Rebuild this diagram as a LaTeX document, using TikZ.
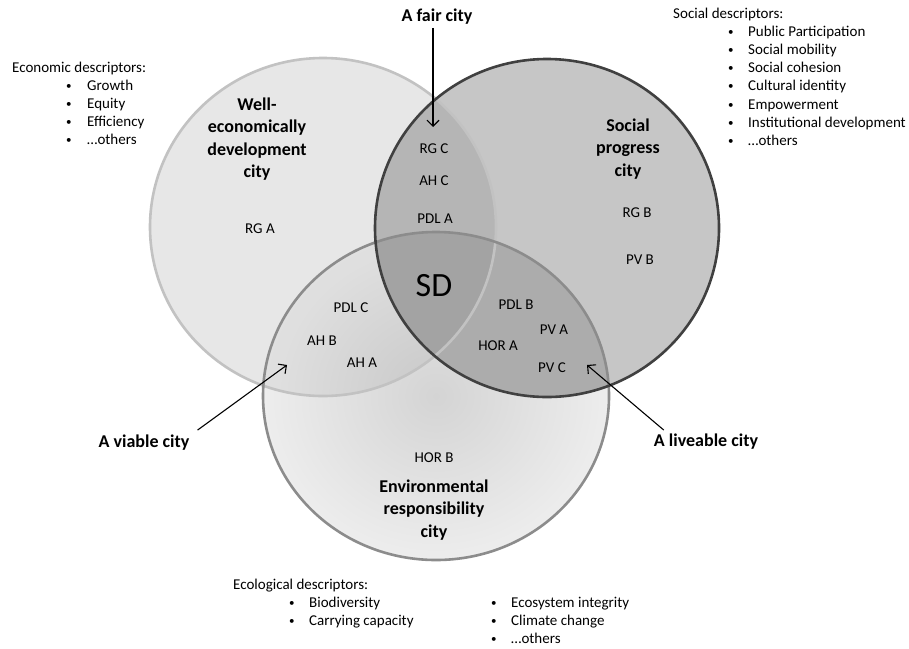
\documentclass[tikz,border=0pt]{standalone}
\usepackage{fontspec}
\setmainfont{Carlito}
\usetikzlibrary{arrows.meta}
\definecolor{Lfill}{HTML}{E7E7E7}
\definecolor{Rfill}{HTML}{C6C6C6}
\definecolor{LRfill}{HTML}{B5B5B5}
\definecolor{RBfill}{HTML}{ACACAC}
\definecolor{LRBfill}{HTML}{A3A3A3}
\definecolor{Binner}{HTML}{D4D4D4}
\definecolor{Bouter}{HTML}{EDEDED}
\definecolor{Ledge}{HTML}{C2C2C2}
\definecolor{Redge}{HTML}{404040}
\definecolor{Bedge}{HTML}{8C8C8C}
\newcommand{\smbul}{{\fontsize{11}{12}\selectfont\textbullet}}
\begin{document}
\begin{tikzpicture}[x=1pt,y=-1pt,
  sm/.style={font=\fontsize{15}{18}\selectfont, inner sep=0pt, anchor=base},
  lst/.style={font=\fontsize{15}{18}\selectfont, inner sep=0pt, anchor=base west},
  ttl/.style={font=\fontsize{18}{22.5}\selectfont\bfseries, align=center, inner sep=0pt},
  arr/.style={-{Straight Barb[length=6pt,width=12pt]}, line width=1.1pt, black},
  rim/.style={line width=2.6pt},
]
\useasboundingbox (0,0) rectangle (909,648);
\fill[white] (0,0) rectangle (909,648);
\def\Lpath{(323,227) ellipse [x radius=173, y radius=169]}
\def\Rpath{(547,228) ellipse [x radius=172, y radius=169]}
\def\Bpath{(436,396) ellipse [x radius=173, y radius=164]}
% fills
\fill[Lfill] \Lpath;
\fill[Rfill] \Rpath;
\begin{scope}
  \clip \Lpath;
  \fill[LRfill] \Rpath;
\end{scope}
\shade[inner color=Binner, outer color=Bouter] \Bpath;
\begin{scope}
  \clip \Bpath;
  \fill[black, opacity=0.05] \Lpath;
\end{scope}
\begin{scope}
  \clip \Bpath;
  \fill[RBfill] \Rpath;
\end{scope}
\begin{scope}
  \clip \Bpath;
  \clip \Lpath;
  \fill[LRBfill] \Rpath;
\end{scope}
% rims
\draw[rim, Ledge] \Lpath;
\draw[rim, Bedge] \Bpath;
\draw[rim, Redge] \Rpath;

% circle titles
\node[ttl] (econ) at (257,139) {Well-\\economically\\development\\city};
\node[ttl] (soc) at (628,149) {Social\\progress\\city};
\node[ttl] (env) at (434,510) {Environmental\\responsibility\\city};

% SD
\node[font=\fontsize{34}{40}\selectfont, inner sep=0pt, anchor=base] (sd) at (434,296) {SD};

% small labels
\node[sm] (rga) at (260,233) {RG A};
\node[sm] (rgc) at (434,153) {RG C};
\node[sm] (ahc) at (434,185) {AH C};
\node[sm] (pdla) at (435,223) {PDL A};
\node[sm] (rgb) at (637,217) {RG B};
\node[sm] (pvb) at (640,264) {PV B};
\node[sm] (pdlc) at (351,312) {PDL C};
\node[sm] (ahb) at (322,345) {AH B};
\node[sm] (aha) at (362,367) {AH A};
\node[sm] (pdlb) at (516,309) {PDL B};
\node[sm] (pva) at (554,334) {PV A};
\node[sm] (hora) at (498,350) {HOR A};
\node[sm] (pvc) at (552,372) {PV C};
\node[sm] (horb) at (434,462) {HOR B};

% outer labels and arrows
\node[ttl] (fair) at (437,17) {A fair city};
\node[ttl] (viable) at (144,443) {A viable city};
\node[ttl] (live) at (706,442) {A liveable city};
\coordinate (fairtip) at (433,127);
\coordinate (viabletip) at (287,365);
\coordinate (livetip) at (587,365);
\draw[arr, shorten <=3pt] (fair.south -| fairtip) -- (fairtip);
\draw[arr] ([shift={(8,-5)}]viable.north east) -- (viabletip);
\draw[arr] ([shift={(10,-4)}]live.north west) -- (livetip);

% economic descriptors
\node[lst] (ecoh) at (12,72) {Economic descriptors:};
\foreach \t [count=\i] in {Growth,Equity,Efficiency,\ldots others}{
  \node[lst] (ecob\i) at (66,71+\i*18.2) {\smbul};
  \node[lst] (ecot\i) at (87,72+\i*18.2) {\t};
}
% social descriptors
\node[lst] (soch) at (673,18) {Social descriptors:};
\foreach \t [count=\i] in {Public Participation,Social mobility,Social cohesion,Cultural identity,Empowerment,Institutional development,\ldots others}{
  \node[lst] (socb\i) at (728,17+\i*18.2) {\smbul};
  \node[lst] (soct\i) at (748,18+\i*18.2) {\t};
}
% ecological descriptors
\node[lst] (envh) at (233,589) {Ecological descriptors:};
\foreach \t [count=\i] in {Biodiversity,Carrying capacity}{
  \node[lst] (envb\i) at (289,588+\i*18) {\smbul};
  \node[lst] (envt\i) at (309,589+\i*18) {\t};
}
\foreach \t [count=\i] in {Ecosystem integrity,Climate change,\ldots others}{
  \node[lst] (envc\i) at (491,588+\i*18) {\smbul};
  \node[lst] (envd\i) at (511,589+\i*18) {\t};
}
\end{tikzpicture}
\end{document}
